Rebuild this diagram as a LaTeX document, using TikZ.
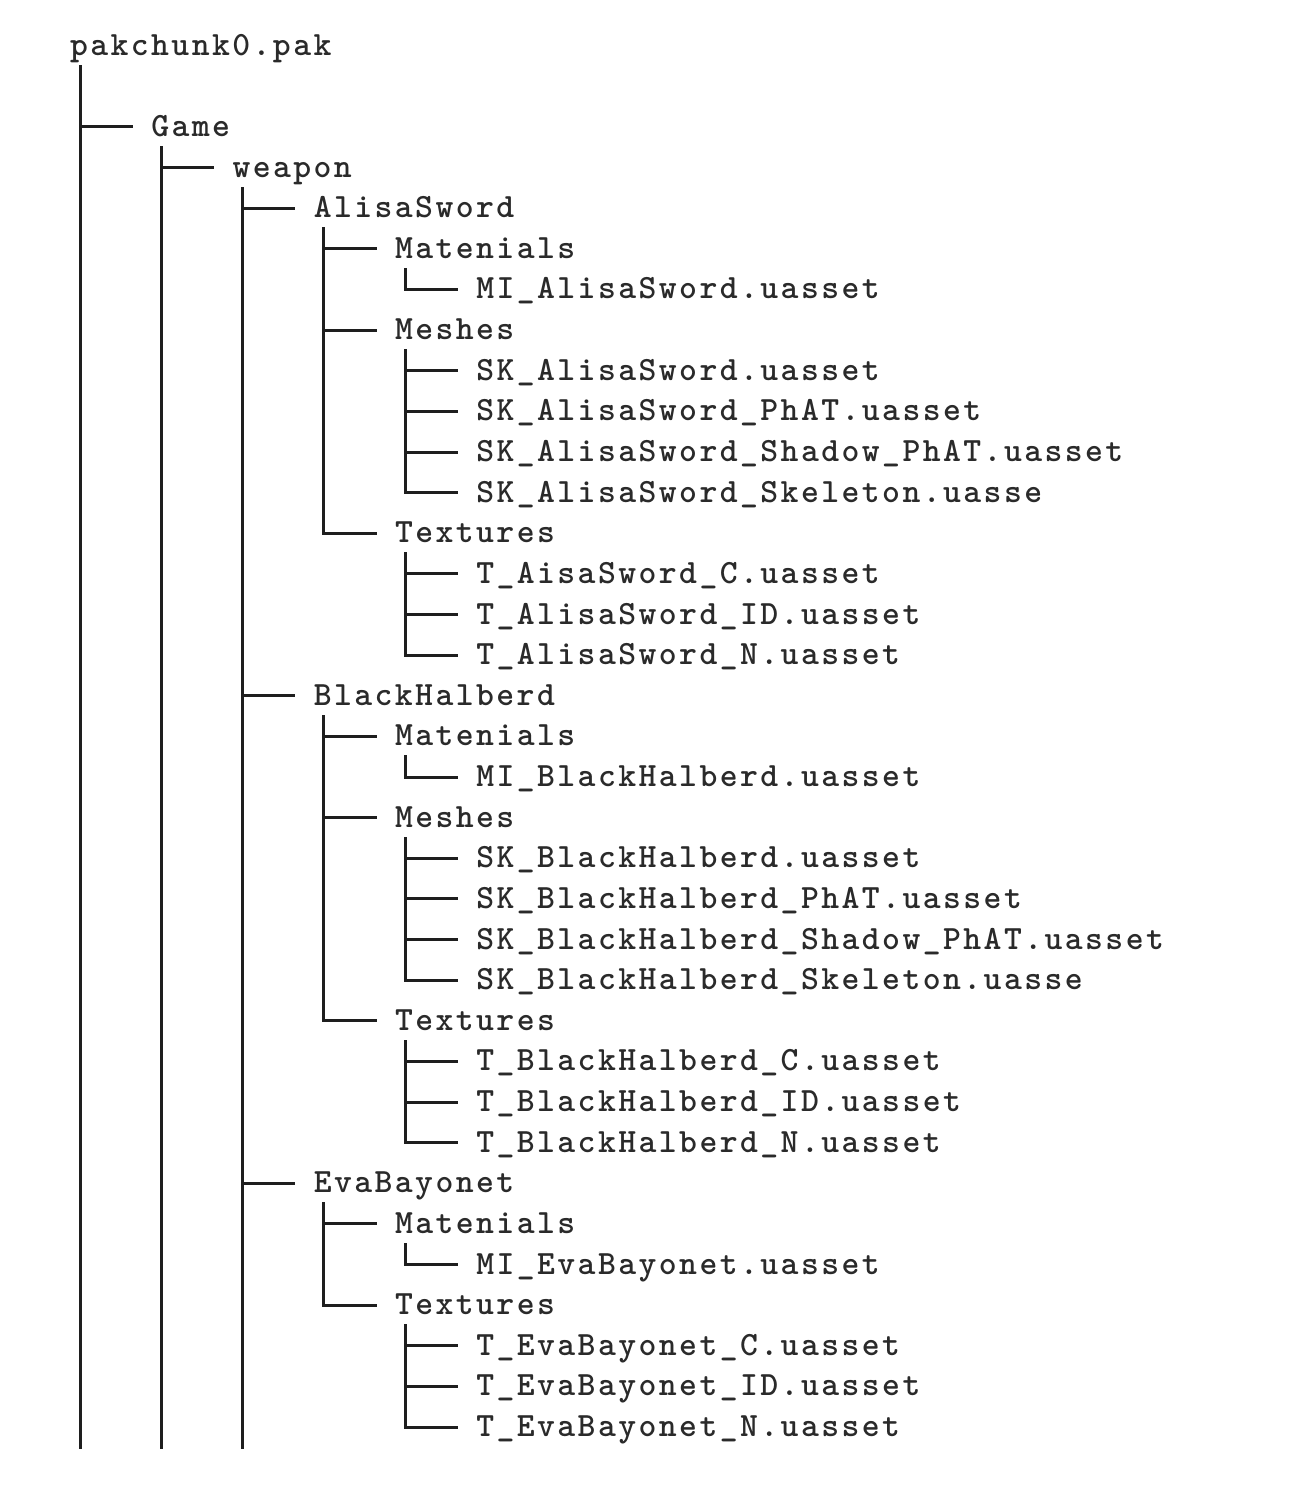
\documentclass[tikz,border=0pt]{standalone}
\usepackage{fontspec}
\newfontfamily\codefont[LetterSpace=7.2]{lmmonolt10-bold.otf}
\definecolor{txtcol}{HTML}{2A2A2A}
\definecolor{linecol}{HTML}{1E1E1E}
\tikzset{
  txt/.style={anchor=base west, inner sep=0pt, outer sep=0pt, text=txtcol,
              font=\codefont\fontsize{17}{20}\selectfont},
  tree/.style={draw=linecol, line width=1.5pt, line cap=rect}
}
\newcommand\entry[4]{\node[txt] (#1) at ({70+81.25*#2},{55.25+40.625*#3}) {#4};}
\newcommand\branch[2]{\draw[tree] ([shift={(10,11)}]#1.base west) |- ([shift={(-20,-9.5)}]#2.base west);}
\newcommand\openline[2]{\draw[tree] ([shift={(10,11)}]#1.base west) -- (#2);}
\begin{document}
\begin{tikzpicture}[x=0.5pt,y=-0.5pt]
\useasboundingbox (0,0) rectangle (1300,1498);
\entry{root}{0}{0}{pakchunk0.pak}
\entry{game}{1}{2}{Game}
\entry{weapon}{2}{3}{weapon}
% AlisaSword
\entry{as}{3}{4}{AlisaSword}
\entry{asmat}{4}{5}{Matenials}
\entry{asmi}{5}{6}{MI\_AlisaSword.uasset}
\entry{asmesh}{4}{7}{Meshes}
\entry{assk}{5}{8}{SK\_AlisaSword.uasset}
\entry{asphat}{5}{9}{SK\_AlisaSword\_PhAT.uasset}
\entry{asshadow}{5}{10}{SK\_AlisaSword\_Shadow\_PhAT.uasset}
\entry{asskel}{5}{11}{SK\_AlisaSword\_Skeleton.uasse}
\entry{astex}{4}{12}{Textures}
\entry{astc}{5}{13}{T\_AisaSword\_C.uasset}
\entry{astid}{5}{14}{T\_AlisaSword\_ID.uasset}
\entry{astn}{5}{15}{T\_AlisaSword\_N.uasset}
% BlackHalberd
\entry{bh}{3}{16}{BlackHalberd}
\entry{bhmat}{4}{17}{Matenials}
\entry{bhmi}{5}{18}{MI\_BlackHalberd.uasset}
\entry{bhmesh}{4}{19}{Meshes}
\entry{bhsk}{5}{20}{SK\_BlackHalberd.uasset}
\entry{bhphat}{5}{21}{SK\_BlackHalberd\_PhAT.uasset}
\entry{bhshadow}{5}{22}{SK\_BlackHalberd\_Shadow\_PhAT.uasset}
\entry{bhskel}{5}{23}{SK\_BlackHalberd\_Skeleton.uasse}
\entry{bhtex}{4}{24}{Textures}
\entry{bhtc}{5}{25}{T\_BlackHalberd\_C.uasset}
\entry{bhtid}{5}{26}{T\_BlackHalberd\_ID.uasset}
\entry{bhtn}{5}{27}{T\_BlackHalberd\_N.uasset}
% EvaBayonet
\entry{eb}{3}{28}{EvaBayonet}
\entry{ebmat}{4}{29}{Matenials}
\entry{ebmi}{5}{30}{MI\_EvaBayonet.uasset}
\entry{ebtex}{4}{31}{Textures}
\entry{ebtc}{5}{32}{T\_EvaBayonet\_C.uasset}
\entry{ebtid}{5}{33}{T\_EvaBayonet\_ID.uasset}
\entry{ebtn}{5}{34}{T\_EvaBayonet\_N.uasset}
% open ends at the bottom
\coordinate (rootend) at (80,1447);
\coordinate (gameend) at (161.25,1447);
\coordinate (weaponend) at (242.5,1447);
\openline{root}{rootend}
\openline{game}{gameend}
\openline{weapon}{weaponend}
% connectors
\branch{root}{game}
\branch{game}{weapon}
\branch{weapon}{as}
\branch{weapon}{bh}
\branch{weapon}{eb}
\branch{as}{asmat}\branch{as}{asmesh}\branch{as}{astex}
\branch{asmat}{asmi}
\branch{asmesh}{assk}\branch{asmesh}{asphat}\branch{asmesh}{asshadow}\branch{asmesh}{asskel}
\branch{astex}{astc}\branch{astex}{astid}\branch{astex}{astn}
\branch{bh}{bhmat}\branch{bh}{bhmesh}\branch{bh}{bhtex}
\branch{bhmat}{bhmi}
\branch{bhmesh}{bhsk}\branch{bhmesh}{bhphat}\branch{bhmesh}{bhshadow}\branch{bhmesh}{bhskel}
\branch{bhtex}{bhtc}\branch{bhtex}{bhtid}\branch{bhtex}{bhtn}
\branch{eb}{ebmat}\branch{eb}{ebtex}
\branch{ebmat}{ebmi}
\branch{ebtex}{ebtc}\branch{ebtex}{ebtid}\branch{ebtex}{ebtn}
\end{tikzpicture}
\end{document}
